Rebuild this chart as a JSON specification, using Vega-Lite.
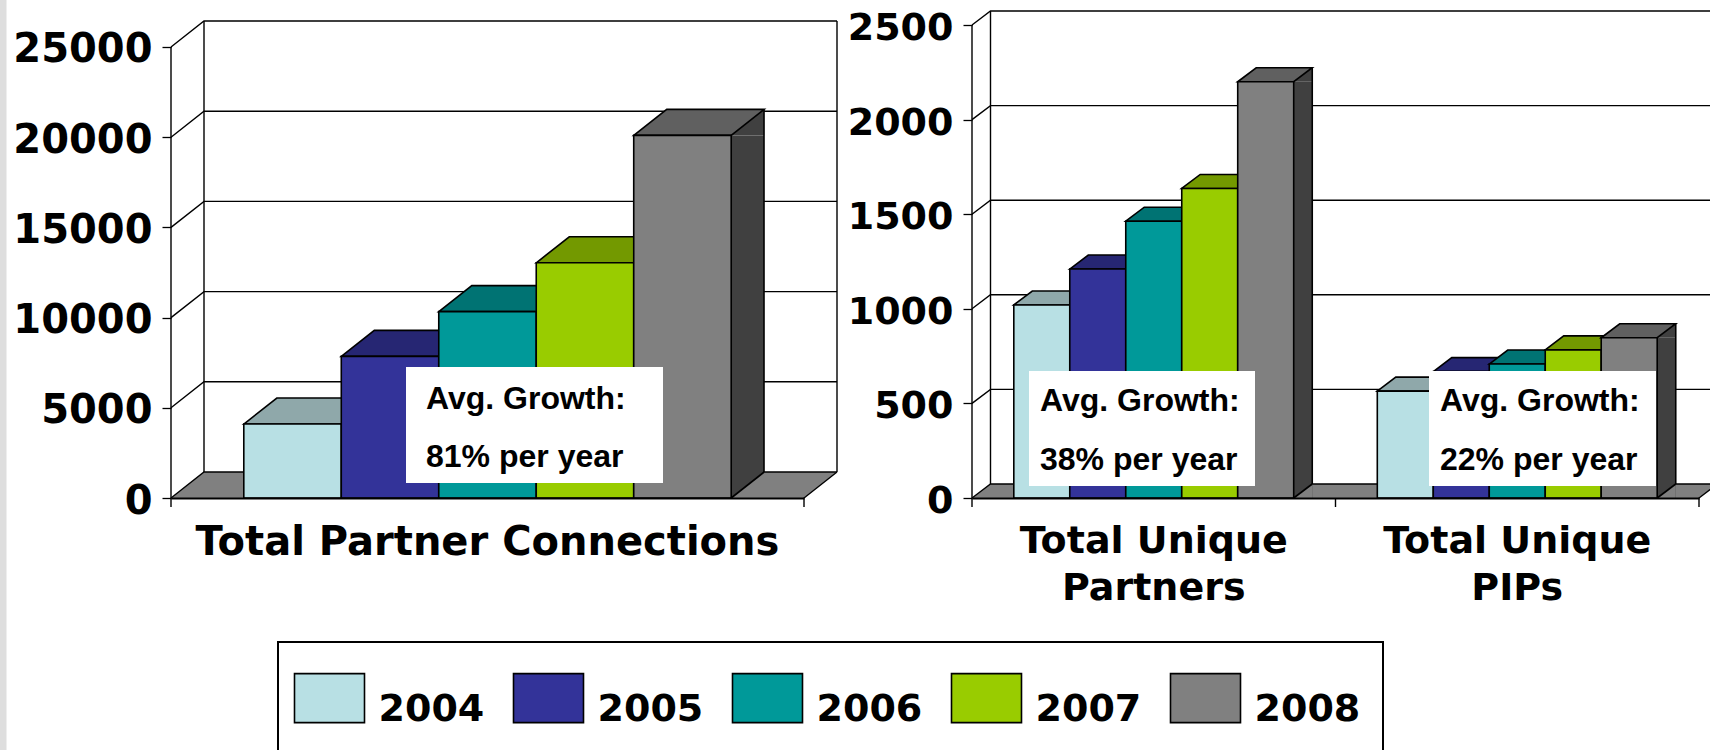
{
"$schema":"https://vega.github.io/schema/vega-lite/v6.json",
"padding":0,"autosize":{"type":"pad"},"background":"white",
"bounds":"flush","spacing":168,
"resolve":{"scale":{"xOffset":"independent"}},
"config":{"view":{"stroke":null},"font":"DejaVu Sans"},
"datasets":{
"barsL":[
{"cat":"Total Partner Connections","year":"2004","value":4100},
{"cat":"Total Partner Connections","year":"2005","value":7850},
{"cat":"Total Partner Connections","year":"2006","value":10330},
{"cat":"Total Partner Connections","year":"2007","value":13040},
{"cat":"Total Partner Connections","year":"2008","value":20100}],
"barsR":[
{"cat":"Total Unique Partners","year":"2004","value":1020},
{"cat":"Total Unique Partners","year":"2005","value":1210},
{"cat":"Total Unique Partners","year":"2006","value":1463},
{"cat":"Total Unique Partners","year":"2007","value":1636},
{"cat":"Total Unique Partners","year":"2008","value":2200},
{"cat":"Total Unique PIPs","year":"2004","value":565},
{"cat":"Total Unique PIPs","year":"2005","value":668},
{"cat":"Total Unique PIPs","year":"2006","value":708},
{"cat":"Total Unique PIPs","year":"2007","value":783},
{"cat":"Total Unique PIPs","year":"2008","value":847}],
"ticksL":[{"cat":"Total Partner Connections","tick":0},{"cat":"Total Partner Connections","tick":5000},{"cat":"Total Partner Connections","tick":10000},{"cat":"Total Partner Connections","tick":15000},{"cat":"Total Partner Connections","tick":20000},{"cat":"Total Partner Connections","tick":25000}],
"ticksR":[{"cat":"Total Unique Partners","tick":0},{"cat":"Total Unique Partners","tick":500},{"cat":"Total Unique Partners","tick":1000},{"cat":"Total Unique Partners","tick":1500},{"cat":"Total Unique Partners","tick":2000},{"cat":"Total Unique Partners","tick":2500}],
"notes":[
{"cat":"Total Partner Connections","label":"Avg. Growth:","growth":"81% per year"},
{"cat":"Total Unique Partners","label":"Avg. Growth:","growth":"38% per year"},
{"cat":"Total Unique PIPs","label":"Avg. Growth:","growth":"22% per year"}]
},
"hconcat":[
{"width":633,"height":498,
"resolve":{"scale":{"fill":"independent"}},
"encoding":{"x":{"field":"cat","type":"nominal","sort":null,"title":null,"scale":{"paddingInner":0.23,"paddingOuter":0.115},"axis":{"zindex":1,"ticks":false,"labelAngle":0,"labelFont":"DejaVu Sans","labelFontWeight":"bold","labelFontSize":40,"labelLimit":900,"labelColor":"black","labelPadding":24,"domainColor":"black","domainWidth":2}}},
"layer":[
{"data":{"name":"ticksL"},"transform":[{"filter":"datum.tick==0"}],"mark":{"type":"point","shape":"M-487.5,-498 H-481 V252 H-487.5 Z","size":4,"filled":true,"fill":"#dedede","opacity":1,"stroke":null},"encoding":{"y":{"field":"tick","type":"quantitative"}}},
{"data":{"name":"ticksL"},"transform":[{"filter":"datum.tick==0"}],"mark":{"type":"point","shape":"M-209.5,144 H895.5 V253 H-209.5 Z","size":4,"filled":true,"fill":"white","opacity":1,"stroke":"black","strokeWidth":2},"encoding":{"y":{"field":"tick","type":"quantitative"}}},
{"data":{"name":"ticksL"},"transform":[{"filter":"datum.tick==0"}],"mark":{"type":"point","shape":"M-316.5,0 L316.5,0 L349.5,-26 L-283.5,-26 Z","size":4,"filled":true,"fill":"#808080","opacity":1,"stroke":null},"encoding":{"y":{"field":"tick","type":"quantitative"}}},
{"data":{"name":"ticksL"},"transform":[{"filter":"datum.tick==0"}],"mark":{"type":"point","shape":"M-316.5,9 V-451 M-283.5,-26 V-477 M349.5,-26 V-477 M316.5,9 V0 L349.5,-26","size":4,"filled":false,"opacity":1,"stroke":"black","strokeWidth":1.4},"encoding":{"y":{"field":"tick","type":"quantitative"}}},
{"data":{"name":"ticksL"},"mark":{"type":"point","shape":"M-316.5,0 L-283.5,-26 H349.5","size":4,"filled":false,"opacity":1,"stroke":"black","strokeWidth":1.4},"encoding":{"y":{"field":"tick","type":"quantitative"}}},
{"data":{"name":"barsL"},"transform":[{"filter":"datum.year=='2008'"}],"mark":{"type":"rule","color":"#404040","strokeWidth":33,"xOffset":260},"encoding":{"y":{"field":"value","type":"quantitative"},"y2":{"datum":0}}},
{"data":{"name":"barsL"},"transform":[{"filter":"datum.year=='2008'"}],"mark":{"type":"point","shape":"M48.7,0 L81.7,-26 L81.7,0 Z","size":4,"filled":true,"fill":"#404040","opacity":1,"stroke":null},"encoding":{"xOffset":{"field":"year","type":"nominal","scale":{"padding":0,"domain":["2004","2005","2006","2007","2008"]}},"y":{"field":"value","type":"quantitative"}}},
{"data":{"name":"barsL"},"transform":[{"filter":"datum.year=='2008'"}],"mark":{"type":"rule","color":"black","strokeWidth":1.6,"xOffset":276.5,"yOffset":-26,"y2Offset":-26},"encoding":{"y":{"field":"value","type":"quantitative"},"y2":{"datum":0}}},
{"data":{"name":"barsL"},"mark":{"type":"point","shape":"M-48.7,0 L-15.7,-26 L81.7,-26 L48.7,0 Z","size":4,"filled":true,"opacity":1,"stroke":"black","strokeWidth":1.6},"encoding":{"xOffset":{"field":"year","type":"nominal"},"y":{"field":"value","type":"quantitative"},"fill":{"field":"year","type":"nominal","legend":null,"scale":{"domain":["2004","2005","2006","2007","2008"],"range":["#8fa8aa","#262673","#007373","#739900","#606060"]}}}},
{"data":{"name":"barsL"},"transform":[{"filter":"datum.year=='2008'"}],"mark":{"type":"point","shape":"M48.7,0 L81.7,0 L81.7,-26 Z","size":4,"filled":true,"fill":"#808080","opacity":1,"stroke":null},"encoding":{"xOffset":{"field":"year","type":"nominal"},"y":{"datum":0}}},
{"data":{"name":"barsL"},"transform":[{"filter":"datum.year=='2008'"}],"mark":{"type":"point","shape":"M48.7,0 L81.7,-26","size":4,"filled":false,"opacity":1,"stroke":"black","strokeWidth":1.6},"encoding":{"xOffset":{"field":"year","type":"nominal"},"y":{"datum":0}}},
{"data":{"name":"barsL"},"mark":{"type":"bar","stroke":"black","strokeWidth":1.6},"encoding":{
"xOffset":{"field":"year","type":"nominal"},
"y":{"field":"value","type":"quantitative","title":null,"scale":{"domain":[0,27605],"nice":false},"axis":{"values":[0,5000,10000,15000,20000,25000],"format":"d","grid":false,"domain":false,"labelFont":"DejaVu Sans","labelFontWeight":"bold","labelFontSize":40,"labelColor":"black","labelPadding":10,"labelOffset":3,"tickSize":9,"tickColor":"black","tickWidth":1.3,"labelFlush":false}},
"y2":{"datum":0},
"color":{"field":"year","type":"nominal","scale":{"domain":["2004","2005","2006","2007","2008"],"range":["#b8e0e4","#333399","#009999","#99cc00","#808080"]},"legend":{"title":null,"orient":"none","legendX":122.5,"legendY":674,"columns":5,"padding":0,"symbolType":"M-1,-1.04 L1,-1.04 L1,0.36 L-1,0.36 Z","symbolSize":4900,"symbolStrokeColor":"black","symbolStrokeWidth":1.6,"symbolOpacity":1,"labelFont":"DejaVu Sans","labelFontWeight":"bold","labelFontSize":38,"labelColor":"black","labelOffset":13,"columnPadding":25}}}},
{"data":{"name":"notes"},"transform":[{"filter":"datum.cat=='Total Partner Connections'"}],"mark":{"type":"point","shape":"M-81.5,-131 H175.5 V-15 H-81.5 Z","size":4,"filled":true,"fill":"white","opacity":1,"stroke":null},"encoding":{"y":{"datum":0}}},
{"data":{"name":"notes"},"transform":[{"filter":"datum.cat=='Total Partner Connections'"}],"mark":{"type":"text","font":"Liberation Sans","fontWeight":"bold","fontSize":32,"align":"left","baseline":"alphabetic","dx":-61.5,"dy":-89,"color":"black"},"encoding":{"y":{"datum":0},"text":{"field":"label"}}},
{"data":{"name":"notes"},"transform":[{"filter":"datum.cat=='Total Partner Connections'"}],"mark":{"type":"text","font":"Liberation Sans","fontWeight":"bold","fontSize":32,"align":"left","baseline":"alphabetic","dx":-61.5,"dy":-31,"color":"black"},"encoding":{"y":{"datum":0},"text":{"field":"growth"}}}
]},
{"width":727,"height":498,
"resolve":{"scale":{"fill":"independent"}},
"encoding":{"x":{"field":"cat","type":"nominal","sort":null,"title":null,"scale":{"paddingInner":0.23,"paddingOuter":0.115},"axis":{"zindex":1,"ticks":false,"labelAngle":0,"labelFont":"DejaVu Sans","labelFontWeight":"bold","labelFontSize":38,"labelLimit":900,"labelColor":"black","labelPadding":24,"labelLineHeight":47,"domainColor":"black","domainWidth":2,"labelExpr":"datum.label=='Total Unique Partners'?['Total Unique','Partners']:['Total Unique','PIPs']"}}},
"layer":[
{"data":{"name":"ticksR"},"transform":[{"filter":"datum.tick==0"}],"mark":{"type":"point","shape":"M-181.75,0 L545.25,0 L563.75,-14 L-163.25,-14 Z","size":4,"filled":true,"fill":"#808080","opacity":1,"stroke":null},"encoding":{"y":{"field":"tick","type":"quantitative"}}},
{"data":{"name":"ticksR"},"transform":[{"filter":"datum.tick==0"}],"mark":{"type":"point","shape":"M-181.75,9 V-473 M-163.25,-14 V-487 M181.75,0 V9 M545.25,9 V0 L563.75,-14","size":4,"filled":false,"opacity":1,"stroke":"black","strokeWidth":1.4},"encoding":{"y":{"field":"tick","type":"quantitative"}}},
{"data":{"name":"ticksR"},"mark":{"type":"point","shape":"M-181.75,0 L-163.25,-14 H563.75","size":4,"filled":false,"opacity":1,"stroke":"black","strokeWidth":1.4},"encoding":{"y":{"field":"tick","type":"quantitative"}}},
{"data":{"name":"barsR"},"transform":[{"filter":"datum.year=='2008'"}],"mark":{"type":"rule","color":"#404040","strokeWidth":18.5,"xOffset":149.25},"encoding":{"y":{"field":"value","type":"quantitative"},"y2":{"datum":0}}},
{"data":{"name":"barsR"},"transform":[{"filter":"datum.year=='2008'"}],"mark":{"type":"point","shape":"M28,0 L46.5,-14 L46.5,0 Z","size":4,"filled":true,"fill":"#404040","opacity":1,"stroke":null},"encoding":{"xOffset":{"field":"year","type":"nominal","scale":{"padding":0,"domain":["2004","2005","2006","2007","2008"]}},"y":{"field":"value","type":"quantitative"}}},
{"data":{"name":"barsR"},"transform":[{"filter":"datum.year=='2008'"}],"mark":{"type":"rule","color":"black","strokeWidth":1.6,"xOffset":158.5,"yOffset":-14,"y2Offset":-14},"encoding":{"y":{"field":"value","type":"quantitative"},"y2":{"datum":0}}},
{"data":{"name":"barsR"},"mark":{"type":"point","shape":"M-28,0 L-9.5,-14 L46.5,-14 L28,0 Z","size":4,"filled":true,"opacity":1,"stroke":"black","strokeWidth":1.6},"encoding":{"xOffset":{"field":"year","type":"nominal"},"y":{"field":"value","type":"quantitative"},"fill":{"field":"year","type":"nominal","legend":null,"scale":{"domain":["2004","2005","2006","2007","2008"],"range":["#8fa8aa","#262673","#007373","#739900","#606060"]}}}},
{"data":{"name":"barsR"},"transform":[{"filter":"datum.year=='2008'"}],"mark":{"type":"point","shape":"M28,0 L46.5,0 L46.5,-14 Z","size":4,"filled":true,"fill":"#808080","opacity":1,"stroke":null},"encoding":{"xOffset":{"field":"year","type":"nominal"},"y":{"datum":0}}},
{"data":{"name":"barsR"},"transform":[{"filter":"datum.year=='2008'"}],"mark":{"type":"point","shape":"M28,0 L46.5,-14","size":4,"filled":false,"opacity":1,"stroke":"black","strokeWidth":1.6},"encoding":{"xOffset":{"field":"year","type":"nominal"},"y":{"datum":0}}},
{"data":{"name":"barsR"},"mark":{"type":"bar","stroke":"black","strokeWidth":1.6},"encoding":{
"xOffset":{"field":"year","type":"nominal"},
"y":{"field":"value","type":"quantitative","title":null,"scale":{"domain":[0,2632],"nice":false},"axis":{"values":[0,500,1000,1500,2000,2500],"format":"d","grid":false,"domain":false,"labelFont":"DejaVu Sans","labelFontWeight":"bold","labelFontSize":38,"labelColor":"black","labelPadding":10,"labelOffset":3.5,"tickSize":9,"tickColor":"black","tickWidth":1.3,"labelFlush":false}},
"y2":{"datum":0},
"color":{"field":"year","type":"nominal","scale":{"domain":["2004","2005","2006","2007","2008"],"range":["#b8e0e4","#333399","#009999","#99cc00","#808080"]},"legend":null}}},
{"data":{"name":"notes"},"transform":[{"filter":"datum.cat=='Total Unique Partners'"}],"mark":{"type":"point","shape":"M-124.75,-127 H101.25 V-12 H-124.75 Z","size":4,"filled":true,"fill":"white","opacity":1,"stroke":null},"encoding":{"y":{"datum":0}}},
{"data":{"name":"notes"},"transform":[{"filter":"datum.cat=='Total Unique Partners'"}],"mark":{"type":"text","font":"Liberation Sans","fontWeight":"bold","fontSize":32,"align":"left","baseline":"alphabetic","dx":-113.75,"dy":-87,"color":"black"},"encoding":{"y":{"datum":0},"text":{"field":"label"}}},
{"data":{"name":"notes"},"transform":[{"filter":"datum.cat=='Total Unique Partners'"}],"mark":{"type":"text","font":"Liberation Sans","fontWeight":"bold","fontSize":32,"align":"left","baseline":"alphabetic","dx":-113.75,"dy":-28,"color":"black"},"encoding":{"y":{"datum":0},"text":{"field":"growth"}}},
{"data":{"name":"notes"},"transform":[{"filter":"datum.cat=='Total Unique PIPs'"}],"mark":{"type":"point","shape":"M-88.25,-127 H138.75 V-12 H-88.25 Z","size":4,"filled":true,"fill":"white","opacity":1,"stroke":null},"encoding":{"y":{"datum":0}}},
{"data":{"name":"notes"},"transform":[{"filter":"datum.cat=='Total Unique PIPs'"}],"mark":{"type":"text","font":"Liberation Sans","fontWeight":"bold","fontSize":32,"align":"left","baseline":"alphabetic","dx":-77.25,"dy":-87,"color":"black"},"encoding":{"y":{"datum":0},"text":{"field":"label"}}},
{"data":{"name":"notes"},"transform":[{"filter":"datum.cat=='Total Unique PIPs'"}],"mark":{"type":"text","font":"Liberation Sans","fontWeight":"bold","fontSize":32,"align":"left","baseline":"alphabetic","dx":-77.25,"dy":-28,"color":"black"},"encoding":{"y":{"datum":0},"text":{"field":"growth"}}}
]}
]}
